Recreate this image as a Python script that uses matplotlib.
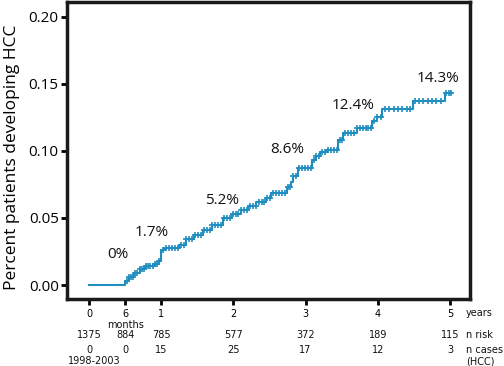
import numpy as np
import matplotlib
matplotlib.use("Agg")
import matplotlib.pyplot as plt
from matplotlib import transforms

# ---- data ----
event_times = [0, 0.50, 0.55, 0.62, 0.70, 0.78, 0.90, 0.97, 1.00, 1.05, 1.25, 1.35,
               1.45, 1.58, 1.70, 1.85, 1.98, 2.10, 2.20, 2.32, 2.45, 2.52, 2.74, 2.80,
               2.83, 2.89, 3.09, 3.15, 3.20, 3.30, 3.45, 3.52, 3.71, 3.92, 3.99, 4.06,
               4.49, 4.93]
cum_inc = [0, 0.003, 0.006, 0.009, 0.012, 0.014, 0.016, 0.018, 0.026, 0.028, 0.030, 0.034,
           0.037, 0.041, 0.045, 0.050, 0.053, 0.056, 0.059, 0.062, 0.065, 0.069, 0.073, 0.077,
           0.081, 0.087, 0.093, 0.096, 0.099, 0.101, 0.108, 0.113, 0.117, 0.122, 0.125, 0.131,
           0.137, 0.143]
end_time = 5.03

censor_times = [0.52, 0.55, 0.58, 0.61, 0.64, 0.67, 0.70, 0.73, 0.76, 0.79, 0.82, 0.85,
                0.88, 0.91, 0.94, 0.97, 1.03, 1.07, 1.11, 1.15, 1.19, 1.23, 1.27, 1.31,
                1.35, 1.39, 1.43, 1.47, 1.51, 1.55, 1.59, 1.63, 1.67, 1.71, 1.75, 1.79,
                1.83, 1.87, 1.91, 1.95, 1.99, 2.03, 2.07, 2.11, 2.15, 2.19, 2.23, 2.27,
                2.31, 2.35, 2.39, 2.43, 2.47, 2.51, 2.55, 2.59, 2.63, 2.67, 2.71, 2.75,
                2.79, 2.83, 2.87, 2.91, 2.95, 2.99, 3.03, 3.07, 3.11, 3.15, 3.19, 3.23,
                3.27, 3.31, 3.35, 3.39, 3.43, 3.47, 3.51, 3.55, 3.59, 3.63, 3.67, 3.71,
                3.75, 3.79, 3.83, 3.87, 3.91, 3.95, 3.99, 4.04, 4.10, 4.16, 4.22, 4.28,
                4.34, 4.40, 4.44, 4.51, 4.57, 4.63, 4.69, 4.75, 4.81, 4.87, 4.95, 4.99, 5.02]

pct_labels = ["0%", "1.7%", "5.2%", "8.6%", "12.4%", "14.3%"]
pct_x = [0.40, 0.87, 1.84, 2.74, 3.66, 4.83]
pct_y = [0.023, 0.039, 0.063, 0.101, 0.134, 0.154]

xtick_pos = [0, 0.5, 1, 2, 3, 4, 5]
xtick_labels = ["0", "6", "1", "2", "3", "4", "5"]
yticks = [0.00, 0.05, 0.10, 0.15, 0.20]

risk_pos = [0, 0.5, 1, 2, 3, 4, 5]
n_risk = ["1375", "884", "785", "577", "372", "189", "115"]
n_cases = ["0", "0", "15", "25", "17", "12", "3"]

color = "#1f8dbf"

# ---- figure ----
fig = plt.figure(figsize=(5.04, 3.66), dpi=100)
ax = fig.add_axes([0.1329, 0.183, 0.7996, 0.8115])

ax.step(event_times + [end_time], cum_inc + [cum_inc[-1]], where="post",
        color=color, lw=1.5)
idx = np.searchsorted(event_times, censor_times, side="right") - 1
cy = np.array(cum_inc)[idx]
ax.plot(censor_times, cy, linestyle="none", marker="+", color=color,
        markersize=4.5, mew=1.2)

for lab, x, y in zip(pct_labels, pct_x, pct_y):
    ax.text(x, y, lab, ha="center", va="center", fontsize=11,
            family="Open Sans", color="#111111")

ax.set_xlim(-0.305, 5.277)
ax.set_ylim(-0.0104, 0.211)
ax.set_yticks(yticks)
ax.set_yticklabels([f"{v:.2f}" for v in yticks], fontsize=11, family="Open Sans")
ax.set_xticks(xtick_pos)
ax.set_xticklabels(xtick_labels, fontsize=7, family="DejaVu Sans")
ax.tick_params(axis="y", direction="out", length=4, width=2, pad=2)
ax.tick_params(axis="x", direction="out", length=4, width=2, pad=3.5)
for s in ax.spines.values():
    s.set_linewidth(2.5)
    s.set_color("#1a1a1a")

fig.text(12 / 504, 1 - 157 / 366, "Percent patients developing HCC", rotation=90,
         ha="center", va="center", fontsize=12.5, family="Open Sans")

trans = transforms.blended_transform_factory(ax.transData, fig.transFigure)
small = dict(fontsize=7, family="DejaVu Sans", color="#111111")

def fy(py):
    return 1 - py / 366

for x, r, c in zip(risk_pos, n_risk, n_cases):
    ax.text(x, fy(335), r, transform=trans, ha="center", va="center", **small)
    ax.text(x, fy(350), c, transform=trans, ha="center", va="center", **small)

fig.text(466 / 504, fy(313), "years", ha="left", va="center", **small)
fig.text(466 / 504, fy(335), "n risk", ha="left", va="center", **small)
fig.text(466 / 504, fy(350), "n cases", ha="left", va="center", **small)
fig.text(466 / 504, fy(361), "(HCC)", ha="left", va="center", **small)
ax.text(0.5, fy(325), "months", transform=trans, ha="center", va="center", **small)
ax.text(0.07, fy(361), "1998-2003", transform=trans, ha="center", va="center", **small)

fig.savefig("out.png", dpi=100)
